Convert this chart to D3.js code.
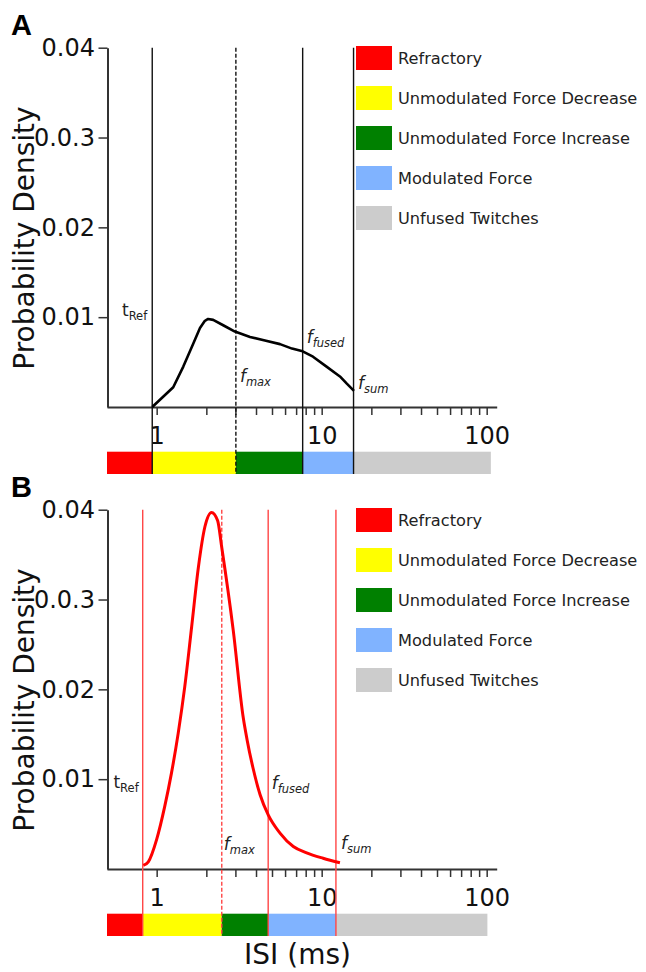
<!DOCTYPE html>
<html>
<head>
<meta charset="utf-8">
<script src="https://cdn.jsdelivr.net/npm/d3@7"></script>
<style>
body { margin: 0; background: #fff; }
</style>
</head>
<body>
<script>
// ISI density curves
var isiA = [0.94, 1.26, 1.45, 1.67, 1.83, 1.96, 2.05, 2.20, 2.53, 2.98, 3.68, 4.53, 5.59, 6.61, 7.67, 8.86, 10.7, 12.9, 14.2, 15.7];
var densA = [0, 0.0022, 0.0045, 0.0071, 0.0088, 0.0096, 0.0098, 0.0097, 0.0091, 0.0084, 0.0078, 0.0074, 0.0070, 0.0065, 0.0062, 0.0056, 0.0045, 0.0034, 0.0026, 0.0018];

var isiB = [0.83, 0.89, 1.0, 1.12, 1.23, 1.35, 1.48, 1.63, 1.79, 1.96, 2.15, 2.34, 2.48, 2.91, 3.35, 3.53, 3.83, 4.23, 4.75, 5.59, 6.73, 8.11, 10.2, 12.9];
var densB = [0.0004, 0.0008, 0.0033, 0.0070, 0.0107, 0.0151, 0.0203, 0.0270, 0.0336, 0.0381, 0.0397, 0.0388, 0.0358, 0.0266, 0.0168, 0.0144, 0.0113, 0.0083, 0.0060, 0.0040, 0.0025, 0.0018, 0.0012, 0.0007];

// region boundaries (ms): start, tRef, fmax, ffused, fsum, end
var boundsA = [0.5, 0.94, 3.02, 7.67, 15.6, 106];
var boundsB = [0.5, 0.823, 2.48, 4.74, 12.2, 101];

var regionNames = ['Refractory', 'Unmodulated Force Decrease', 'Unmodulated Force Increase', 'Modulated Force', 'Unfused Twitches'];
var regionColors = ['#ff0000', '#ffff00', '#008000', '#80b3ff', '#cccccc'];

var markerMain = ['t', 'f', 'f', 'f'];
var markerSub = ['Ref', 'max', 'fused', 'sum'];

var yTicks = [0.01, 0.02, 0.03, 0.04];
var yTickLabels = ['0.01', '0.02', '0.0.3', '0.04'];
var xMajor = [1, 10, 100];
var xMinor = [2, 3, 4, 5, 6, 7, 8, 9, 20, 30, 40, 50, 60, 70, 80, 90];

var font = 'DejaVu Sans, Verdana, sans-serif';

var svg = d3.select('body').append('svg')
    .attr('width', 646)
    .attr('height', 972);

var x = d3.scaleLog().domain([0.5, 115]).range([107, 496.7]);
var y = d3.scaleLinear().domain([0, 0.04]).range([407, 47.7]);
var barTop = 451.7, barBot = 474;

function panel(p) {
    var g = svg.append('g').attr('transform', 'translate(0,' + p.dy + ')');

    g.append('text')
        .attr('x', 11).attr('y', 35)
        .attr('font-family', 'Liberation Sans, Arial, sans-serif')
        .attr('font-weight', 'bold').attr('font-size', 29)
        .text(p.letter);

    // colour bar
    var regions = p.bounds.slice(0, -1).map(function(b, i) {
        return {a: b, b: p.bounds[i + 1], c: regionColors[i]};
    });
    g.selectAll('rect.region').data(regions).enter().append('rect')
        .attr('class', 'region')
        .attr('x', function(d) { return x(d.a); })
        .attr('width', function(d) { return x(d.b) - x(d.a); })
        .attr('y', barTop).attr('height', barBot - barTop)
        .attr('fill', function(d) { return d.c; });

    // y axis
    var ya = g.append('g').attr('transform', 'translate(107.5,0)')
        .call(d3.axisLeft(y).tickValues(yTicks)
            .tickFormat(function(d, i) { return yTickLabels[i]; })
            .tickSize(9).tickSizeOuter(0).tickPadding(3.5));
    ya.select('.domain').attr('stroke', '#333').attr('stroke-width', 2);
    ya.selectAll('.tick line').attr('stroke', '#333').attr('stroke-width', 1.5);
    ya.selectAll('text').attr('font-family', font).attr('font-size', 24).attr('fill', '#111');

    // x axis
    var xa = g.append('g').attr('transform', 'translate(0,407)')
        .call(d3.axisBottom(x).tickValues(xMajor.concat(xMinor))
            .tickFormat(function(d) { return xMajor.indexOf(d) >= 0 ? d : ''; })
            .tickSize(8).tickSizeOuter(0).tickPadding(11.5));
    xa.select('.domain').attr('stroke', '#333').attr('stroke-width', 2);
    xa.selectAll('.tick line').attr('stroke', '#333').attr('stroke-width', 1.5);
    xa.selectAll('text').attr('font-family', font).attr('font-size', 24).attr('fill', '#111');

    g.append('text')
        .attr('transform', 'translate(34,238) rotate(-90)')
        .attr('text-anchor', 'middle')
        .attr('font-family', font).attr('font-size', 28).attr('fill', '#111')
        .text('Probability Density');

    // marker lines
    var marks = p.bounds.slice(1, 5);
    g.selectAll('line.mark').data(marks).enter().append('line')
        .attr('class', 'mark')
        .attr('x1', function(d) { return x(d); }).attr('x2', function(d) { return x(d); })
        .attr('y1', y(0.04)).attr('y2', barBot)
        .attr('stroke', p.lineColor).attr('stroke-width', 1.4)
        .attr('stroke-dasharray', function(d, i) { return i == 1 ? '4,2' : null; });

    // curve
    var pts = p.isi.map(function(v, i) { return [v, p.dens[i]]; });
    g.append('path')
        .datum(pts)
        .attr('fill', 'none')
        .attr('stroke', p.curveColor)
        .attr('stroke-width', p.curveWidth)
        .attr('stroke-linejoin', 'round')
        .attr('d', d3.line()
            .x(function(d) { return x(d[0]); })
            .y(function(d) { return y(d[1]); })
            .curve(p.curve));

    // marker labels
    marks.forEach(function(m, i) {
        var t = g.append('text')
            .attr('x', x(m) + p.labDx[i])
            .attr('y', p.labY[i])
            .attr('text-anchor', i == 0 ? 'end' : 'start')
            .attr('font-family', font).attr('fill', '#222')
            .attr('font-style', i == 0 ? 'normal' : 'italic');
        t.append('tspan').attr('font-size', 17).text(markerMain[i]);
        t.append('tspan').attr('font-size', 11.5).attr('dy', 4).text(markerSub[i]);
    });

    // legend
    var lg = g.selectAll('g.leg').data(regionNames).enter().append('g')
        .attr('class', 'leg')
        .attr('transform', function(d, i) { return 'translate(356,' + (46 + i * 40) + ')'; });
    lg.append('rect')
        .attr('width', 36).attr('height', 24)
        .attr('fill', function(d, i) { return regionColors[i]; });
    lg.append('text')
        .attr('x', 42).attr('y', 12).attr('dy', '0.35em')
        .attr('font-family', font).attr('font-size', 16.2).attr('fill', '#222')
        .text(function(d) { return d; });
}

panel({
    dy: 0, letter: 'A', bounds: boundsA, isi: isiA, dens: densA,
    lineColor: '#111', curveColor: '#000', curveWidth: 2.6, curve: d3.curveLinear,
    labDx: [-5, 4, 4, 4.5], labY: [316, 382, 343, 389]
});
panel({
    dy: 462, letter: 'B', bounds: boundsB, isi: isiB, dens: densB,
    lineColor: '#ff4545', curveColor: '#ff0000', curveWidth: 3, curve: d3.curveMonotoneX,
    labDx: [-4, 2, 3.5, 5], labY: [326, 388, 327, 387]
});

svg.append('text')
    .attr('x', 297.5).attr('y', 964)
    .attr('text-anchor', 'middle')
    .attr('font-family', font).attr('font-size', 28).attr('fill', '#111')
    .text('ISI (ms)');
</script>
</body>
</html>
